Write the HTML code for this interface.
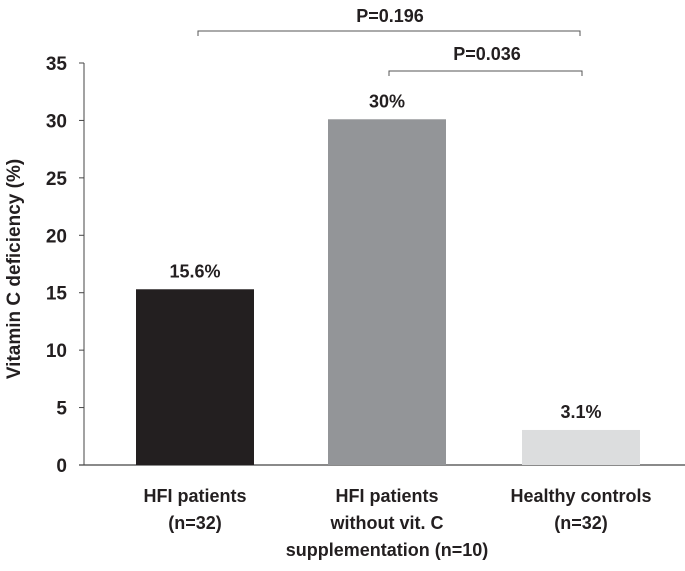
<!DOCTYPE html>
<html><head><meta charset="utf-8"><style>
body{margin:0;background:#fff}
svg text{font-family:"Liberation Sans",Arial,sans-serif;font-weight:bold;fill:#231f20}
</style></head><body>
<svg width="685" height="566">
<g id="g"></g>
</svg>
<script>
const categories=[["HFI patients","(n=32)"],["HFI patients","without vit. C","supplementation (n=10)"],["Healthy controls","(n=32)"]];
const values=[15.3,30.1,3.05];
const valueLabels=["15.6%","30%","3.1%"];
const colors=["#231f20","#939598","#dcddde"];
const ticks=[0,5,10,15,20,25,30,35];
const NS="http://www.w3.org/2000/svg";
const g=document.getElementById("g");
const y0=465,y35=63;
const y=v=>y0-(y0-y35)*v/35;
const centers=[195,387,581];
const bw=118;
function el(t,a,txt){const e=document.createElementNS(NS,t);for(const k in a)e.setAttribute(k,a[k]);if(txt!=null)e.textContent=txt;g.appendChild(e);return e;}
let ax=el("line",{x1:84,y1:y(35),x2:84,y2:y0,stroke:"#444","stroke-width":1});


let bl=el("line",{x1:79,y1:y0,x2:685,y2:y0,stroke:"#444","stroke-width":1.2});


ticks.forEach(t=>{
 let tm=el("line",{x1:79,y1:y(t),x2:84,y2:y(t),stroke:"#444"});
 
 
 let tl=el("text",{x:67,y:y(t)+7,"text-anchor":"end","font-size":19},t);
 
 
});
values.forEach((v,i)=>{
 let r=el("rect",{x:centers[i]-bw/2,y:y(v),width:bw,height:y0-y(v),fill:colors[i]});
 
 
 let l=el("text",{x:centers[i],y:y(v)-12,"text-anchor":"middle","font-size":18},valueLabels[i]);
 
 
 categories[i].forEach((s,j)=>{
  let c=el("text",{x:centers[i],y:502+j*27,"text-anchor":"middle","font-size":18},s);
  
  
 });
});
let b1=el("path",{d:"M198 36V31H580V36",fill:"none",stroke:"#555","stroke-width":1});


let p1=el("text",{x:390,y:22,"text-anchor":"middle","font-size":18},"P=0.196");


let b2=el("path",{d:"M389 76V71H582V76",fill:"none",stroke:"#555","stroke-width":1});


let p2=el("text",{x:487,y:60,"text-anchor":"middle","font-size":18},"P=0.036");


let yt=el("text",{x:0,y:0,"text-anchor":"middle","font-size":19,transform:"translate(20,269) rotate(-90)"},"Vitamin C deficiency (%)");


</script>
</body></html>
